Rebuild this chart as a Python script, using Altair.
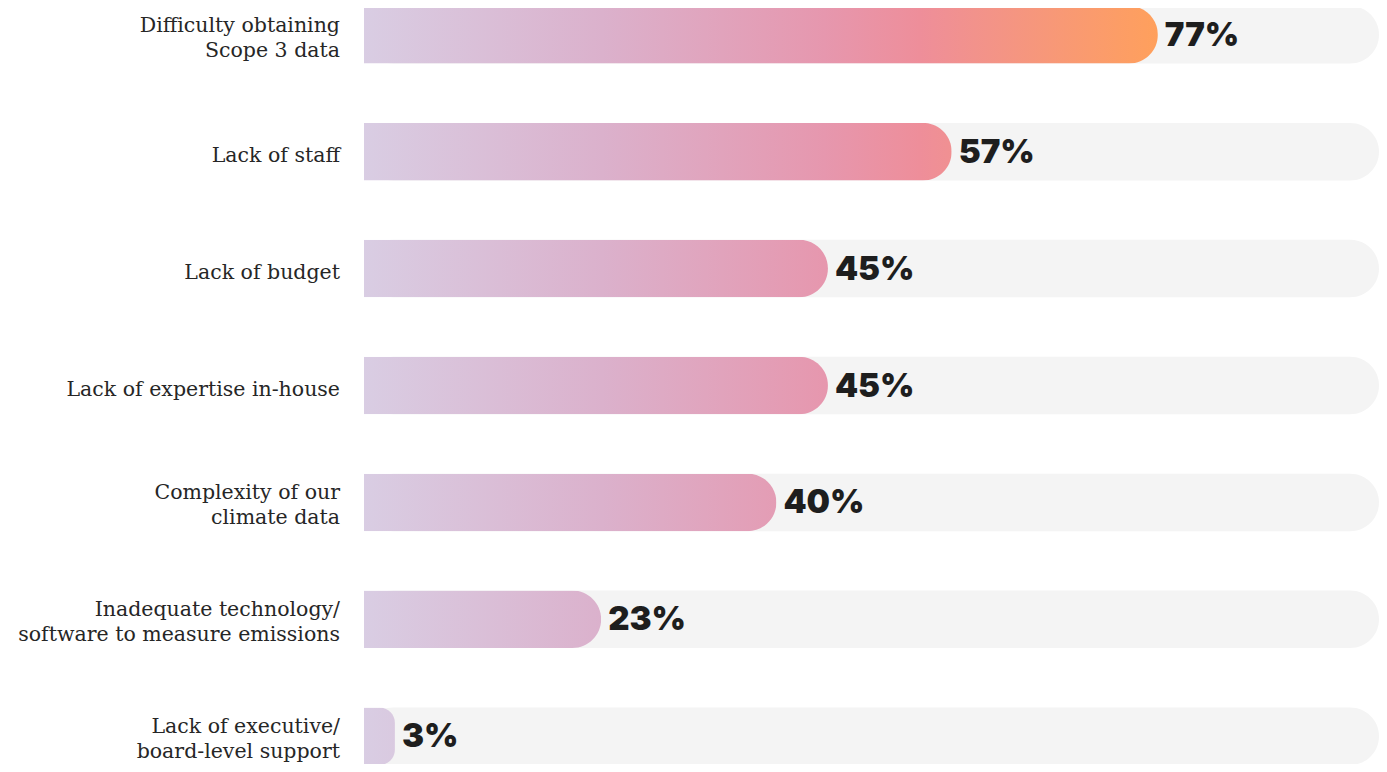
import altair as alt
import pandas as pd

# ---- data ----
categories = [
    "Difficulty obtaining\nScope 3 data",
    "Lack of staff",
    "Lack of budget",
    "Lack of expertise in-house",
    "Complexity of our\nclimate data",
    "Inadequate technology/\nsoftware to measure emissions",
    "Lack of executive/\nboard-level support",
]
values = [77, 57, 45, 45, 40, 23, 3]
full_scale = 100

# gradient palette (position along the longest bar -> colour)
gradient_offsets = [0.0, 0.30, 0.58, 0.70, 1.0]
gradient_colors = ["#d9cde3", "#dbb1cc", "#e697ae", "#ee8e9a", "#ffa05c"]

max_value = max(values)
stops = [{"offset": o, "color": c} for o, c in zip(gradient_offsets, gradient_colors)]
fills = [
    {"gradient": "linear", "x1": 0, "y1": 0, "x2": max_value / v, "y2": 0, "stops": stops}
    for v in values
]

df = pd.DataFrame({"category": categories, "value": values, "fill": fills})

y_enc = alt.Y(
    "category:N",
    sort=categories,
    axis=None,
    scale=alt.Scale(paddingInner=0.508, paddingOuter=0, range=[-2, 757]),
)
x_scale = alt.Scale(domain=[0, full_scale], range=[0, 1031])

base = alt.Chart(df)

bg = base.mark_bar(color="#f4f4f4", cornerRadiusEnd=28.75).encode(
    x=alt.value(0),
    x2=alt.value("width"),
    y=y_enc,
)

bars = base.mark_bar(cornerRadiusEnd=28.75).encode(
    x=alt.X("value:Q", scale=x_scale, axis=None),
    y=y_enc,
    fill=alt.Fill("fill:N", scale=None, legend=None),
)

value_text = base.mark_text(
    align="left", baseline="middle", dx=7, dy=1,
    font="Inter", fontSize=33, fontWeight=900, color="#1e1e1e",
).encode(
    x=alt.X("value:Q", scale=x_scale, axis=None),
    y=y_enc,
    text=alt.Text("label:N"),
).transform_calculate(label="datum.value + '%'")

label_font = dict(font="DejaVu Serif", fontSize=20.5, color="#262626", align="right")

lines_base = base.transform_calculate(
    lines="split(datum.category, '\\n')"
).transform_calculate(
    n="length(datum.lines)", l1="datum.lines[0]", l2="length(datum.lines) > 1 ? datum.lines[1] : ''"
)

single = lines_base.transform_filter("datum.n == 1").mark_text(
    baseline="middle", dx=-24, dy=4, **label_font
).encode(x=alt.datum(0), y=y_enc, text="l1:N")

first_line = lines_base.transform_filter("datum.n > 1").mark_text(
    baseline="alphabetic", dx=-24, dy=-3, **label_font
).encode(x=alt.datum(0), y=y_enc, text="l1:N")

second_line = lines_base.transform_filter("datum.n > 1").mark_text(
    baseline="alphabetic", dx=-24, dy=22, **label_font
).encode(x=alt.datum(0), y=y_enc, text="l2:N")

chart = (
    alt.layer(bg, bars, value_text, single, first_line, second_line)
    .properties(
        width=1015,
        height=756,
        autosize="none",
        padding={"left": 356, "top": 0, "right": 0, "bottom": 0},
    )
    .configure_view(stroke=None)
)

chart.save("out.html", embed_options={"renderer": "svg", "actions": False})
